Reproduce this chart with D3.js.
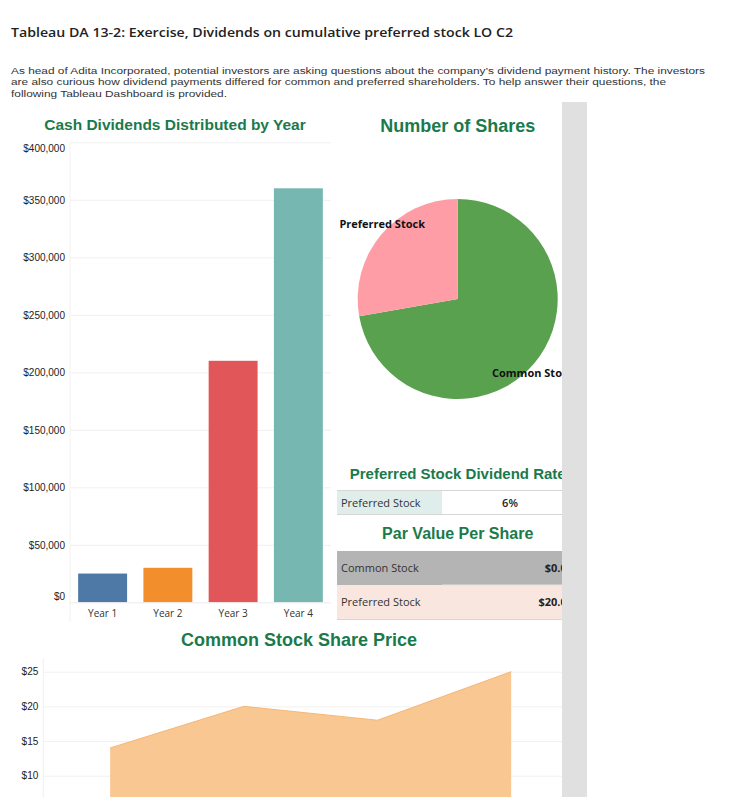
<!DOCTYPE html>
<html>
<head>
<meta charset="utf-8">
<script src="https://cdn.jsdelivr.net/npm/d3@7"></script>
<style>
  body { margin: 0; background: #fff; }
  svg { display: block; }
</style>
</head>
<body>
<div id="dash"></div>
<script>
// chart values
const years = ["Year 1", "Year 2", "Year 3", "Year 4"];
const dividends = [25000, 30000, 210000, 360000];
const dividendTicks = [0, 50000, 100000, 150000, 200000, 250000, 300000, 350000, 400000];
const barColors = ["#4e79a7", "#f28e2b", "#e15759", "#76b7b2"];

const stockTypes = ["Common Stock", "Preferred Stock"];
const shareCounts = [130000, 50000];
const pieColors = ["#59a14f", "#ff9da7"];

const dividendRateLabel = ["Preferred Stock"];
const dividendRate = ["6%"];
const parValues = ["$0.01", "$20.00"];
const parColors = ["#b4b4b4", "#f9e7df"];

const sharePrice = [14, 20, 18, 25];
const priceTicks = [10, 15, 20, 25];

const W = 734, H = 797;
const green = "#1b7a4b";
const svg = d3.select("#dash").append("svg").attr("width", W).attr("height", H);

// header
svg.append("text").attr("x", 11).attr("y", 37)
  .attr("textLength", 502).attr("lengthAdjust", "spacingAndGlyphs")
  .style("font", "600 13px 'Open Sans'").attr("fill", "#222")
  .text("Tableau DA 13-2: Exercise, Dividends on cumulative preferred stock LO C2");

const para = [
  "As head of Adita Incorporated, potential investors are asking questions about the company\u2019s dividend payment history. The investors",
  "are also curious how dividend payments differed for common and preferred shareholders. To help answer their questions, the",
  "following Tableau Dashboard is provided."
];
const paraWidths = [694, 655, 216];
svg.append("g").selectAll("text").data(para).join("text")
  .attr("x", 11).attr("y", (d, i) => 73.5 + i * 11.5)
  .attr("textLength", (d, i) => paraWidths[i]).attr("lengthAdjust", "spacingAndGlyphs")
  .style("font", "9.6px 'Liberation Sans'").attr("fill", "#333")
  .text(d => d);

// ---- bar chart: cash dividends
const bx = d3.scaleBand().domain(years).range([70, 331]).paddingInner(0.25).paddingOuter(0.125);
const by = d3.scaleLinear().domain([0, 400000]).range([602.3, 142.3]);

svg.append("text").attr("x", 175).attr("y", 130).attr("text-anchor", "middle")
  .style("font", "bold 15.5px 'Liberation Sans'").attr("fill", green)
  .text("Cash Dividends Distributed by Year");

const bg = svg.append("g");
bg.append("g")
  .call(d3.axisLeft(by).tickValues(dividendTicks).tickSize(-261).tickFormat(d => d3.format("$,")(d)))
  .attr("transform", "translate(70,0)")
  .call(g => g.select(".domain").remove())
  .call(g => g.selectAll("line").attr("stroke", "#f1f1f1"))
  .call(g => g.selectAll("text")
    .attr("x", -5)
    .attr("dy", d => d === 400000 ? "0.9em" : d === 0 ? "-0.3em" : "0.32em")
    .style("font", "10px 'Liberation Sans'").attr("fill", "#222"));

bg.append("line").attr("x1", 70).attr("x2", 70).attr("y1", 142).attr("y2", 622).attr("stroke", "#f1f1f1");

bg.selectAll("rect.bar").data(years).join("rect")
  .attr("class", "bar")
  .attr("x", d => bx(d))
  .attr("width", bx.bandwidth())
  .attr("y", (d, i) => by(dividends[i]))
  .attr("height", (d, i) => by(0) - by(dividends[i]))
  .attr("fill", (d, i) => barColors[i]);

bg.append("g")
  .attr("transform", "translate(0,602.3)")
  .call(d3.axisBottom(bx).tickSize(0).tickPadding(8))
  .call(g => g.select(".domain").attr("stroke", "#f1f1f1"))
  .call(g => g.selectAll("text").style("font", "10px 'Open Sans'").attr("fill", "#333"));

// ---- pie: number of shares
const cx = 457.7, cy = 299, r = 100;
svg.append("text").attr("x", cx).attr("y", 132).attr("text-anchor", "middle")
  .style("font", "bold 18px 'Liberation Sans'").attr("fill", green)
  .text("Number of Shares");

const pie = d3.pie().sort(null).value(d => d)(shareCounts);
const arc = d3.arc().innerRadius(0).outerRadius(r);
const pg = svg.append("g").attr("transform", `translate(${cx},${cy})`);
pg.selectAll("path").data(pie).join("path")
  .attr("d", arc).attr("fill", (d, i) => pieColors[i]);
pg.selectAll("text").data(pie).join("text")
  .attr("transform", d => {
    const a = (d.startAngle + d.endAngle) / 2 + 0.08;
    return `translate(${Math.sin(a) * 106},${-Math.cos(a) * 106})`;
  })
  .attr("text-anchor", "middle").attr("dy", "0.35em")
  .style("font", "bold 11px 'Open Sans'").attr("fill", "#111")
  .text((d, i) => stockTypes[i]);

// ---- preferred stock dividend rate table
svg.append("text").attr("x", cx).attr("y", 478.5).attr("text-anchor", "middle")
  .style("font", "bold 15px 'Liberation Sans'").attr("fill", green)
  .text("Preferred Stock Dividend Rate");

const rg = svg.append("g");
rg.selectAll("rect").data(dividendRateLabel).join("rect")
  .attr("x", 337).attr("y", 491).attr("width", 105).attr("height", 23).attr("fill", "#e0eeeb");
rg.selectAll("text.lab").data(dividendRateLabel).join("text").attr("class", "lab")
  .attr("x", 341).attr("y", 506.5)
  .style("font", "11px 'Open Sans'").attr("fill", "#333").text(d => d);
rg.selectAll("text.val").data(dividendRate).join("text").attr("class", "val")
  .attr("x", 510).attr("y", 506.5).attr("text-anchor", "middle")
  .style("font", "600 11px 'Open Sans'").attr("fill", "#222").text(d => d);
rg.selectAll("line").data([490.5, 514.5]).join("line")
  .attr("x1", 337).attr("x2", 587).attr("y1", d => d).attr("y2", d => d)
  .attr("stroke", "#d6d6d6");

// ---- par value table
svg.append("text").attr("x", cx).attr("y", 539).attr("text-anchor", "middle")
  .style("font", "bold 16px 'Liberation Sans'").attr("fill", green)
  .text("Par Value Per Share");

const ry = d3.scaleBand().domain(stockTypes).range([551, 619]);
const tg = svg.append("g");
tg.selectAll("rect").data(stockTypes).join("rect")
  .attr("x", 337).attr("y", d => ry(d)).attr("width", 250).attr("height", ry.bandwidth())
  .attr("fill", (d, i) => parColors[i]);
tg.selectAll("text.lab").data(stockTypes).join("text").attr("class", "lab")
  .attr("x", 341).attr("y", d => ry(d) + ry.bandwidth() / 2 + 4)
  .style("font", "11px 'Open Sans'").attr("fill", "#333").text(d => d);
tg.selectAll("text.val").data(stockTypes).join("text").attr("class", "val")
  .attr("x", 573).attr("y", d => ry(d) + ry.bandwidth() / 2 + 4).attr("text-anchor", "end")
  .style("font", "bold 11px 'Open Sans'").attr("fill", "#222").text((d, i) => parValues[i]);
tg.append("line").attr("x1", 442).attr("x2", 587).attr("y1", 585).attr("y2", 585).attr("stroke", "#e4e4e4");
tg.append("line").attr("x1", 337).attr("x2", 587).attr("y1", 619.5).attr("y2", 619.5).attr("stroke", "#d6d6d6");

// ---- area: common stock share price
svg.append("text").attr("x", 299).attr("y", 646).attr("text-anchor", "middle")
  .style("font", "bold 18px 'Liberation Sans'").attr("fill", green)
  .text("Common Stock Share Price");

const ax = d3.scaleBand().domain(years).range([43.3, 578]);
const ay = d3.scaleLinear().domain([0, 25]).range([845, 671.7]);
const ag = svg.append("g");
ag.append("g").attr("transform", "translate(43.3,0)")
  .call(d3.axisLeft(ay).tickValues(priceTicks).tickSize(-520).tickFormat(d => "$" + d))
  .call(g => g.select(".domain").remove())
  .call(g => g.selectAll("line").attr("stroke", "#f1f1f1"))
  .call(g => g.selectAll("text").attr("x", -5)
    .style("font", "10px 'Liberation Sans'").attr("fill", "#222"));
ag.append("line").attr("x1", 43.3).attr("x2", 43.3).attr("y1", 659).attr("y2", H).attr("stroke", "#f1f1f1");

const px = (d, i) => ax(years[i]) + ax.bandwidth() / 2;
ag.append("path").datum(sharePrice)
  .attr("d", d3.area().x(px).y0(ay(0)).y1(d => ay(d)))
  .attr("fill", "#f9c792");
ag.append("path").datum(sharePrice)
  .attr("d", d3.line().x(px).y(d => ay(d)))
  .attr("fill", "none").attr("stroke", "#f6b675").attr("stroke-width", 1);

// right-hand grey scroll panel
svg.append("rect").attr("x", 562).attr("y", 102).attr("width", 25).attr("height", H - 102).attr("fill", "#e0e0e0");
</script>
</body>
</html>
